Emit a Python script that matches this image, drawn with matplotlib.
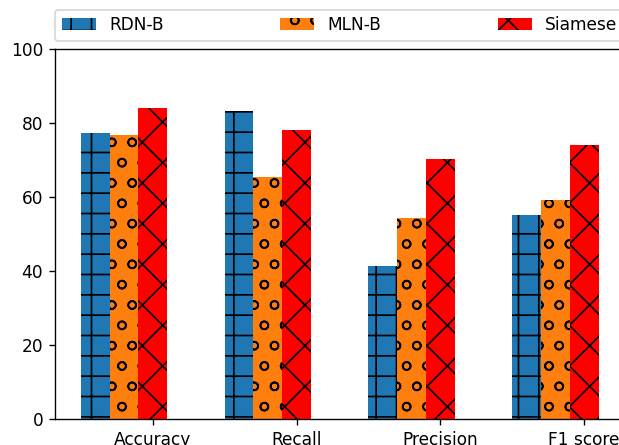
import numpy as np
import matplotlib
matplotlib.use("Agg")
import matplotlib.pyplot as plt

metrics = ["Accuracy", "Recall", "Precision", "F1 score"]
rdn_b = [77.1, 83.2, 41.4, 55.2]
mln_b = [76.7, 65.3, 54.2, 59.2]
siamese = [84.0, 78.0, 70.2, 73.9]

bar_width = 0.2
r1 = np.arange(len(metrics))
r2 = r1 + bar_width
r3 = r2 + bar_width

dpi = 122
fig = plt.figure(figsize=(619 / dpi, 445 / dpi), dpi=dpi)
W, H = 619, 445
ax = fig.add_axes([55 / W, (H - 419.3) / H, 569.4 / W, (419.3 - 48.5) / H])

ax.bar(r1, rdn_b, width=bar_width, color="#1f77b4", hatch="+", label="RDN-B")
ax.bar(r2, mln_b, width=bar_width, color="#ff7f0e", hatch="o", label="MLN-B")
ax.bar(r3, siamese, width=bar_width, color="red", hatch="x", label="Siamese")

ax.set_ylim(0, 100)
ax.set_xticks(r3)
ax.set_xticklabels(metrics)
ax.legend(bbox_to_anchor=(0., 1.02, 1., .102), loc="lower left", ncol=3,
          mode="expand", borderaxespad=0.)

fig.savefig("out.png", dpi=dpi)
